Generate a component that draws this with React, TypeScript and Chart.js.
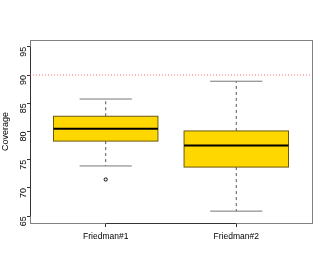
import React, { useEffect, useRef } from "react";
import { Chart, registerables } from "chart.js";
Chart.register(...registerables);

const categories = ["Friedman#1", "Friedman#2"];
const lowerWhisker = [73.9, 65.9];
const q1 = [78.3, 73.7];
const medians = [80.5, 77.5];
const q3 = [82.7, 80.1];
const upperWhisker = [85.75, 88.9];
const outliers = [{ x: 1, y: 71.5 }];
const refLineValue = 90;
const yTicks = [65, 70, 75, 80, 85, 90, 95];

const NARROW = "'Liberation Sans Narrow', 'Liberation Sans', Arial, sans-serif";
const FONT = "'Liberation Sans', Arial, sans-serif";

const boxPlugin = {
  id: "boxes",
  beforeDatasetsDraw(chart: any) {
    const { ctx, scales, chartArea } = chart;
    const xs = scales.x;
    const ys = scales.y;
    ctx.save();
    ctx.strokeStyle = "#808080";
    ctx.lineWidth = 1;
    ctx.strokeRect(
      Math.round(chartArea.left) + 0.5,
      Math.round(chartArea.top) + 0.5,
      Math.round(chartArea.right - chartArea.left),
      Math.round(chartArea.bottom - chartArea.top)
    );
    ctx.strokeStyle = "#333";
    ctx.beginPath();
    ctx.moveTo(xs.getPixelForValue(1), Math.round(chartArea.bottom) + 0.5);
    ctx.lineTo(xs.getPixelForValue(2), Math.round(chartArea.bottom) + 0.5);
    ctx.stroke();
    ctx.beginPath();
    ctx.moveTo(Math.round(chartArea.left) + 0.5, ys.getPixelForValue(yTicks[0]));
    ctx.lineTo(Math.round(chartArea.left) + 0.5, ys.getPixelForValue(yTicks[yTicks.length - 1]));
    ctx.stroke();

    categories.forEach((_, i) => {
      const c = i + 1;
      const xc = xs.getPixelForValue(c);
      const xl = xs.getPixelForValue(c - 0.4);
      const xr = xs.getPixelForValue(c + 0.4);
      const cl = xs.getPixelForValue(c - 0.2);
      const cr = xs.getPixelForValue(c + 0.2);
      const yq1 = ys.getPixelForValue(q1[i]);
      const yq3 = ys.getPixelForValue(q3[i]);
      const ymed = ys.getPixelForValue(medians[i]);
      const ylo = ys.getPixelForValue(lowerWhisker[i]);
      const yhi = ys.getPixelForValue(upperWhisker[i]);
      ctx.strokeStyle = "#555";
      ctx.lineWidth = 1;
      ctx.setLineDash([3, 3]);
      ctx.beginPath();
      ctx.moveTo(xc, yq3);
      ctx.lineTo(xc, yhi);
      ctx.moveTo(xc, yq1);
      ctx.lineTo(xc, ylo);
      ctx.stroke();
      ctx.setLineDash([]);
      ctx.strokeStyle = "#777";
      ctx.beginPath();
      ctx.moveTo(cl, yhi);
      ctx.lineTo(cr, yhi);
      ctx.moveTo(cl, ylo);
      ctx.lineTo(cr, ylo);
      ctx.stroke();
      ctx.fillStyle = "#FFD700";
      ctx.fillRect(xl, yq3, xr - xl, yq1 - yq3);
      ctx.strokeStyle = "#6b5a10";
      ctx.strokeRect(xl, yq3, xr - xl, yq1 - yq3);
      ctx.strokeStyle = "#000";
      ctx.lineWidth = 2;
      ctx.beginPath();
      ctx.moveTo(xl, ymed);
      ctx.lineTo(xr, ymed);
      ctx.stroke();
    });
    ctx.restore();
  },
};

export default function App() {
  const ref = useRef<HTMLCanvasElement>(null);
  useEffect(() => {
    if (!ref.current) return;
    const chart = new Chart(ref.current, {
      type: "scatter",
      data: {
        datasets: [
          {
            type: "line",
            data: [
              { x: 0.42, y: refLineValue },
              { x: 2.58, y: refLineValue },
            ],
            borderColor: "rgba(255,60,60,0.75)",
            borderWidth: 1,
            borderDash: [1, 2],
            pointRadius: 0,
          } as any,
          {
            data: outliers,
            pointRadius: 1.6,
            pointBorderWidth: 1,
            pointBorderColor: "#000",
            pointBackgroundColor: "rgba(0,0,0,0)",
          },
        ],
      },
      options: {
        responsive: false,
        animation: false,
        layout: { padding: { top: 40, right: 15, left: 0, bottom: 0 } },
        plugins: { legend: { display: false }, tooltip: { enabled: false } },
        scales: {
          x: {
            type: "linear",
            min: 0.42,
            max: 2.58,
            afterBuildTicks: (s: any) => {
              s.ticks = categories.map((_, i) => ({ value: i + 1 }));
            },
            afterFit: (s: any) => {
              s.height = 50;
            },
            ticks: {
              callback: (v: any) => categories[Number(v) - 1] ?? "",
              font: { family: NARROW, size: 8.5 },
              color: "#000",
              padding: 5,
              maxRotation: 0,
              minRotation: 0,
              autoSkip: false,
            },
            grid: {
              display: true,
              drawOnChartArea: false,
              drawTicks: true,
              tickLength: 4,
              color: "#333",
            },
            border: { display: false },
          },
          y: {
            type: "linear",
            min: 63.8,
            max: 96.2,
            afterBuildTicks: (s: any) => {
              s.ticks = yTicks.map((v) => ({ value: v }));
            },
            afterFit: (s: any) => {
              s.width = 30;
            },
            ticks: {
              font: { family: FONT, size: 9 },
              color: "#000",
              padding: 3,
              minRotation: 90,
              maxRotation: 90,
              autoSkip: false,
            },
            grid: {
              display: true,
              drawOnChartArea: false,
              drawTicks: true,
              tickLength: 3,
              color: "#333",
            },
            border: { display: false },
            title: {
              display: true,
              text: "Coverage",
              font: { family: FONT, size: 9 },
              color: "#000",
              padding: 0,
            },
          },
        },
      },
      plugins: [boxPlugin],
    });
    return () => chart.destroy();
  }, []);
  return (
    <div style={{ position: "absolute", left: 0, top: 0, width: 327, height: 273, background: "#fff" }}>
      <canvas ref={ref} width={327} height={273} />
    </div>
  );
}
